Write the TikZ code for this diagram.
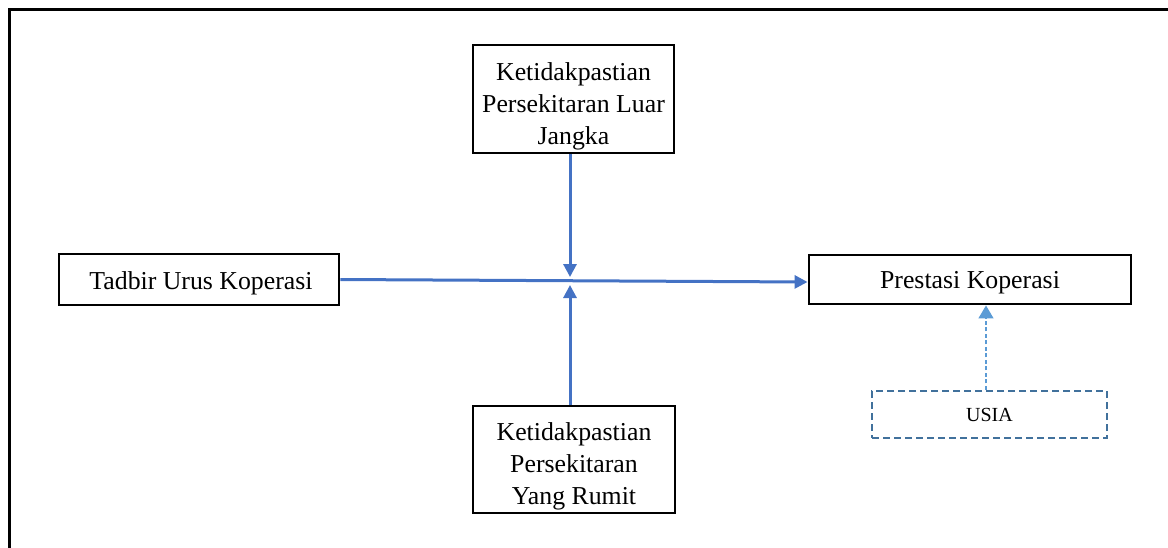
\documentclass[tikz,border=0pt]{standalone}
\usepackage{fontspec}
\setmainfont{Liberation Serif}
\usetikzlibrary{arrows.meta}
\definecolor{mainblue}{HTML}{4472C4}
\definecolor{lightblue}{HTML}{5B9BD5}
\definecolor{dashblue}{HTML}{41719C}
\tikzset{
  box/.style={draw=black, line width=2.9pt, inner sep=0pt},
  boxtext/.style={align=center, inner sep=0pt, font=\fontsize{25.8}{32}\selectfont},
  usiabox/.style={draw=dashblue, line width=2.4pt, dash pattern=on 7pt off 4pt,
    inner sep=0pt, font=\fontsize{20}{24}\selectfont},
  link/.style={draw=mainblue, line width=3pt, -{Triangle[length=13pt,width=13pt]}},
  dlink/.style={draw=lightblue, line width=1.4pt, dash pattern=on 4pt off 2.5pt,
    -{Triangle[length=13pt,width=15pt]}},
  frame/.style={draw=black, line width=3.4pt}
}
\begin{document}
\begin{tikzpicture}[x=1pt,y=-1pt]
\useasboundingbox (0,0) rectangle (1168,547);
\clip (0,0) rectangle (1168,547);
\draw[frame] (9.5,600) -- (9.5,9.5) -- (1200,9.5);

\node[box, minimum width=201pt, minimum height=108pt] (T) at (573.5,99) {};
\node[boxtext] (Tt) at (573.5,106) {Ketidakpastian\\Persekitaran Luar\\Jangka};
\node[box, minimum width=202pt, minimum height=107pt] (B) at (574,459.5) {};
\node[boxtext] (Bt) at (574,466) {Ketidakpastian\\Persekitaran\\Yang Rumit};
\node[box, minimum width=280pt, minimum height=51pt] (L) at (199,279.5) {};
\node[boxtext] (Lt) at (201,283) {Tadbir Urus Koperasi};
\node[box, minimum width=322pt, minimum height=49pt] (R) at (970,279.5) {};
\node[boxtext] (Rt) at (970,283) {Prestasi Koperasi};
\node[usiabox, minimum width=235pt, minimum height=47pt] (U) at (989.5,414.5) {USIA};

\coordinate (jt) at (570,277);
\coordinate (jb) at (570,285);
\draw[link] (L.east) -- ([yshift=-2.5pt]R.west);
\draw[link] ([xshift=-3.5pt]T.south) -- (jt);
\draw[link] ([xshift=-4pt]B.north) -- (jb);
\draw[dlink] ([xshift=-3.5pt]U.north) -- ([xshift=16pt]R.south);
\end{tikzpicture}
\end{document}
